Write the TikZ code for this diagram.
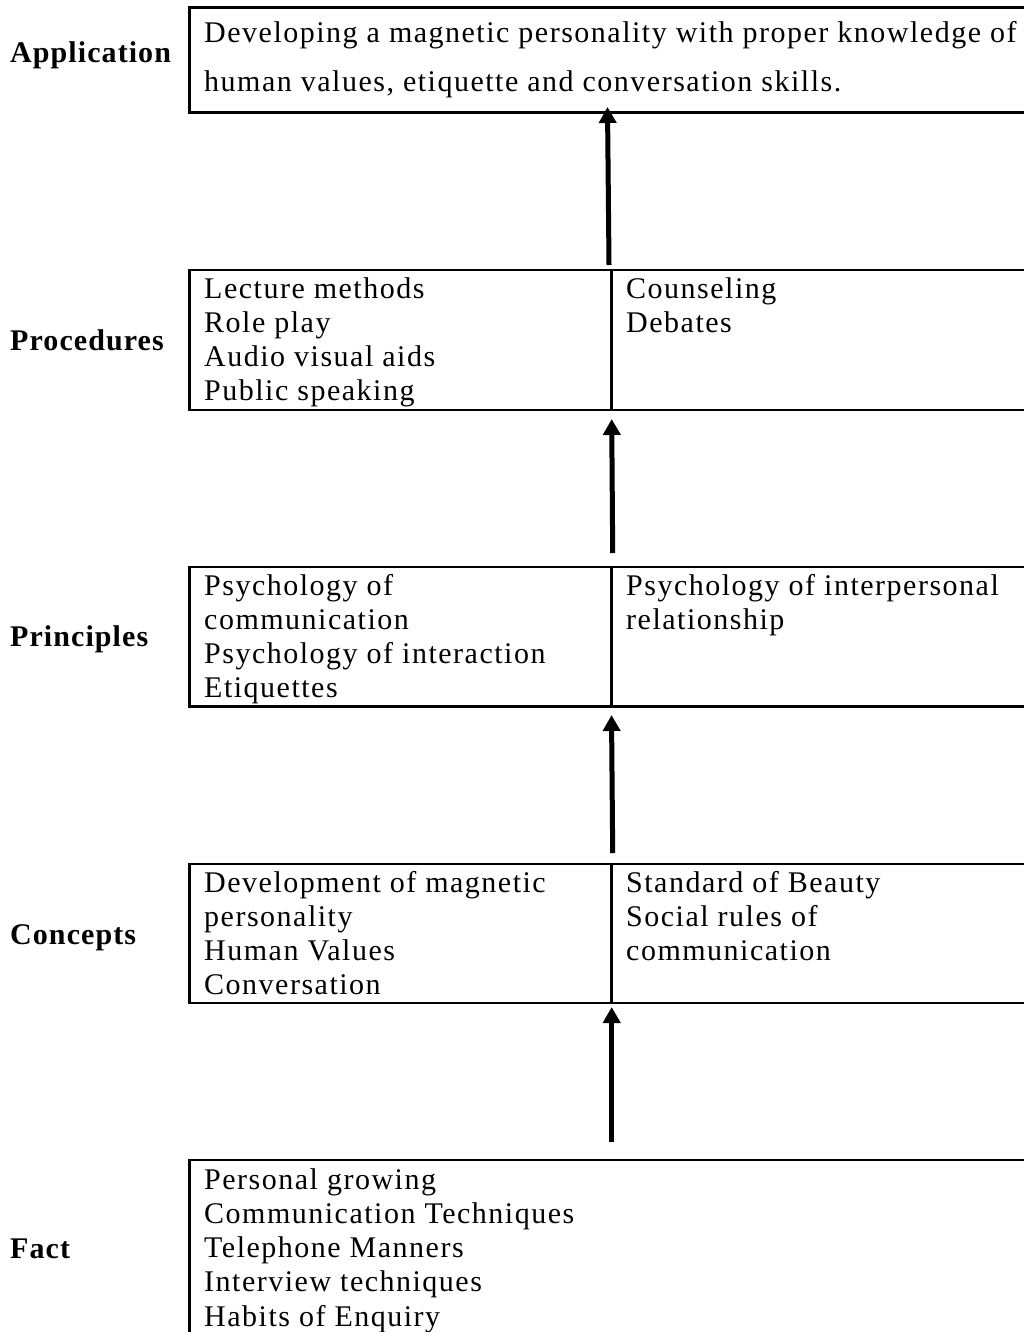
\documentclass[tikz,border=0pt]{standalone}
\usepackage{fontspec}
\setmainfont{Liberation Serif}[LetterSpace=5]
\newfontfamily\lblfont{Liberation Serif}[LetterSpace=3.6]
\usetikzlibrary{arrows.meta}
\newcommand{\boxlines}[1]{\begin{tabular}[t]{@{}l@{}}#1\end{tabular}}
\begin{document}
\begin{tikzpicture}[x=1pt,y=-1pt,
  boxline/.style={line width=2.4pt},
  body/.style={anchor=base west, inner sep=0pt, font=\fontsize{30}{34.3}\selectfont},
  lvl/.style={anchor=base west, inner sep=0pt, font=\fontsize{30}{34.3}\lblfont\bfseries},
  uparrow/.style={line width=5pt, -{Triangle[width=17pt,length=16pt]}}]
\useasboundingbox (0,0) rectangle (1024,1332);
\clip (0,0) rectangle (1024,1332);
\fill[white] (0,0) rectangle (1024,1332);

% boxes
\draw[boxline] (189.5,7.5) rectangle (1040,112.5);
\draw[boxline] (189.5,270) rectangle (1040,410);
\draw[boxline] (611.5,270) -- (611.5,410);
\draw[boxline] (189.5,567) rectangle (1040,706.5);
\draw[boxline] (611.5,567) -- (611.5,706.5);
\draw[boxline] (189.5,864) rectangle (1040,1003);
\draw[boxline] (611.5,864) -- (611.5,1003);
\draw[boxline] (189.5,1160) rectangle (1040,1345);

% level labels
\node[lvl] (lapp) at (10,63) {Application};
\node[lvl] (lproc) at (10,350) {Procedures};
\node[lvl] (lprin) at (10,646) {Principles};
\node[lvl] (lcon) at (10,944) {Concepts};
\node[lvl] (lfact) at (10,1258) {Fact};

% contents
\node[body] (app) at (204,43) {\boxlines{Developing a magnetic personality with proper knowledge of\\[14.7pt] human values, etiquette and conversation skills.}};
\node[body] (procL) at (204,298) {\boxlines{Lecture methods\\ Role play\\ Audio visual aids\\ Public speaking}};
\node[body] (procR) at (626,298) {\boxlines{Counseling\\ Debates}};
\node[body] (prinL) at (204,595) {\boxlines{Psychology of\\ communication\\ Psychology of interaction\\ Etiquettes}};
\node[body] (prinR) at (626,595) {\boxlines{Psychology of interpersonal\\ relationship}};
\node[body] (conL) at (204,892) {\boxlines{Development of magnetic\\ personality\\ Human Values\\ Conversation}};
\node[body] (conR) at (626,892) {\boxlines{Standard of Beauty\\ Social rules of\\ communication}};
\node[body] (fact) at (204,1189) {\boxlines{Personal growing\\ Communication Techniques\\ Telephone Manners\\ Interview techniques\\ Habits of Enquiry}};

% arrows
\coordinate (s1) at (609,265);   \coordinate (e1) at (607.5,107);
\coordinate (s2) at (612.7,553); \coordinate (e2) at (611.7,419);
\coordinate (s3) at (612.7,853); \coordinate (e3) at (611.5,715);
\coordinate (s4) at (611.7,1142);\coordinate (e4) at (611.7,1007);
\draw[uparrow] (s1) -- (e1);
\draw[uparrow] (s2) -- (e2);
\draw[uparrow] (s3) -- (e3);
\draw[uparrow] (s4) -- (e4);
\end{tikzpicture}
\end{document}
